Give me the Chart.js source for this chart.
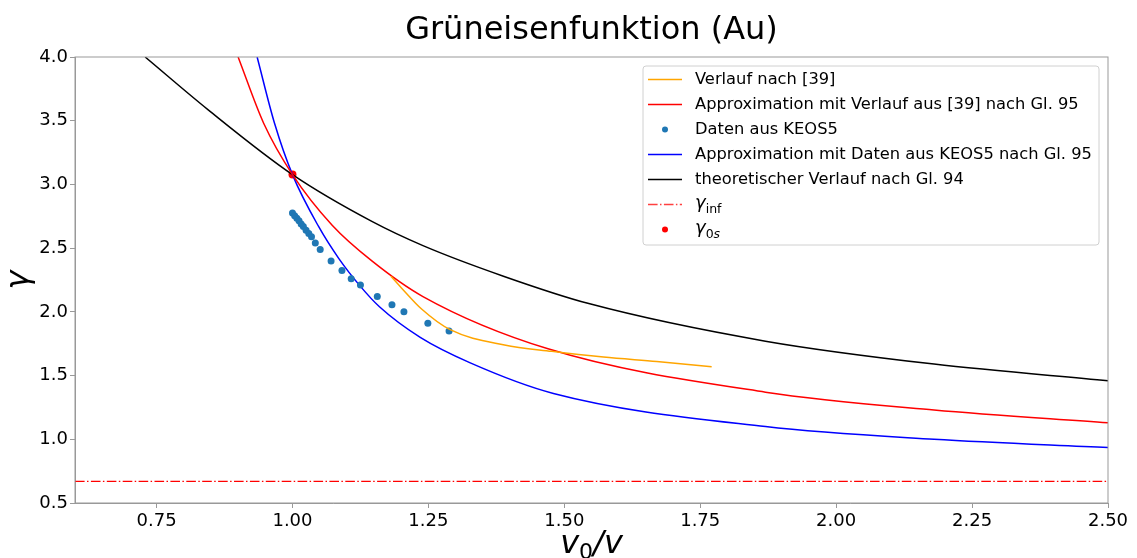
<!DOCTYPE html>
<html>
<head>
<meta charset="utf-8">
<script src="https://cdn.jsdelivr.net/npm/chart.js@4"></script>
<style>
  html, body { margin: 0; padding: 0; background: #fff; }
</style>
</head>
<body>
<canvas id="gruen" width="1137" height="558"></canvas>
<script>
// values
const xTicks = [0.75, 1.0, 1.25, 1.5, 1.75, 2.0, 2.25, 2.5];
const yTicks = [0.5, 1.0, 1.5, 2.0, 2.5, 3.0, 3.5, 4.0];

// Verlauf nach [39]
const verlaufX = [1.181, 1.20, 1.238, 1.29, 1.39, 1.477, 1.572, 1.67, 1.771];
const verlaufY = [2.28, 2.19, 2.02, 1.86, 1.74, 1.69, 1.645, 1.61, 1.57];

// Approximation mit Verlauf aus [39]
const approxRedX = [0.90, 0.947, 1.0, 1.073, 1.146, 1.24, 1.47, 1.87, 2.18, 2.5];
const approxRedY = [4.0, 3.48, 3.077, 2.68, 2.40, 2.12, 1.71, 1.37, 1.23, 1.13];

// Daten aus KEOS5
const keosX = [1.000, 1.004, 1.008, 1.012, 1.016, 1.020, 1.025, 1.030, 1.035,
  1.042, 1.051, 1.071, 1.091, 1.108, 1.125, 1.156, 1.183, 1.205, 1.249, 1.288];
const keosY = [2.775, 2.755, 2.735, 2.715, 2.69, 2.67, 2.64, 2.615, 2.59,
  2.54, 2.49, 2.40, 2.325, 2.26, 2.21, 2.12, 2.055, 2.00, 1.91, 1.85];

// Approximation mit Daten aus KEOS5
const approxBlueX = [0.935, 0.967, 1.0, 1.048, 1.085, 1.125, 1.16, 1.235, 1.327, 1.48, 1.87, 2.18, 2.5];
const approxBlueY = [4.0, 3.48, 3.077, 2.67, 2.42, 2.20, 2.04, 1.80, 1.60, 1.36, 1.10, 1.00, 0.935];

// theoretischer Verlauf
const theoX = [0.729, 0.845, 1.0, 1.146, 1.24, 1.388, 1.545, 1.87, 2.18, 2.5];
const theoY = [4.0, 3.585, 3.077, 2.71, 2.52, 2.28, 2.065, 1.77, 1.59, 1.46];

const gammaInf = 0.67;
const gamma0s = { x: 1.0, y: 3.077 };

const pts = (xs, ys) => xs.map((x, i) => ({ x: x, y: ys[i] }));
const FONT = "'DejaVu Sans', sans-serif";
const dashDot = [9.6, 2.4, 1.5, 2.4];

const lineSet = (label, data, color) => ({
  label: label,
  type: "line",
  data: data,
  borderColor: color,
  borderWidth: 1.5,
  pointRadius: 0,
  fill: false,
  cubicInterpolationMode: "monotone",
});

// legend entries, drawn inside the plot like matplotlib does
const legendItems = [
  { kind: "line", color: "orange", text: "Verlauf nach [39]" },
  { kind: "line", color: "red", text: "Approximation mit Verlauf aus [39] nach Gl. 95" },
  { kind: "dot", color: "#1f77b4", text: "Daten aus KEOS5" },
  { kind: "line", color: "blue", text: "Approximation mit Daten aus KEOS5 nach Gl. 95" },
  { kind: "line", color: "black", text: "theoretischer Verlauf nach Gl. 94" },
  { kind: "dash", color: "rgba(255,0,0,0.75)", sym: "γ", sub: "inf" },
  { kind: "dot", color: "red", sym: "γ", sub: "0", sub2: "s" },
];

const decorations = {
  id: "decorations",
  afterDraw(chart) {
    const ctx = chart.ctx;
    const a = chart.chartArea;
    ctx.save();

    // frame on all four sides
    ctx.strokeStyle = "#999";
    ctx.lineWidth = 1;
    ctx.strokeRect(a.left, a.top, a.right - a.left, a.bottom - a.top);

    // title
    ctx.fillStyle = "#000";
    ctx.textAlign = "center";
    ctx.textBaseline = "alphabetic";
    ctx.font = "32px " + FONT;
    ctx.fillText("Grüneisenfunktion (Au)", (a.left + a.right) / 2, 39);

    // x axis title v0/v
    const cx = (a.left + a.right) / 2;
    ctx.textAlign = "left";
    ctx.font = "italic 32px " + FONT;
    const wv = ctx.measureText("v").width;
    ctx.font = "22px " + FONT;
    const w0 = ctx.measureText("0").width;
    ctx.font = "italic 32px " + FONT;
    const wsl = ctx.measureText("/v").width;
    let x0 = cx - (wv + w0 + wsl) / 2;
    ctx.fillText("v", x0, 553);
    ctx.font = "22px " + FONT;
    ctx.fillText("0", x0 + wv, 559);
    ctx.font = "italic 32px " + FONT;
    ctx.fillText("/v", x0 + wv + w0, 553);

    // y axis title
    ctx.save();
    ctx.translate(28, (a.top + a.bottom) / 2);
    ctx.rotate(-Math.PI / 2);
    ctx.textAlign = "center";
    ctx.font = "italic 32px " + FONT;
    ctx.fillText("γ", 0, 0);
    ctx.restore();

    // legend box
    const bx = 643, by = 66, bw = 456, bh = 179;
    ctx.beginPath();
    ctx.roundRect(bx, by, bw, bh, 3);
    ctx.fillStyle = "rgba(255,255,255,0.8)";
    ctx.fill();
    ctx.strokeStyle = "#d0d0d0";
    ctx.stroke();

    legendItems.forEach((it, i) => {
      const y = 79.5 + i * 25;
      ctx.strokeStyle = it.color;
      ctx.fillStyle = it.color;
      ctx.lineWidth = 1.5;
      if (it.kind === "line" || it.kind === "dash") {
        ctx.setLineDash(it.kind === "dash" ? dashDot : []);
        ctx.beginPath();
        ctx.moveTo(648, y);
        ctx.lineTo(682, y);
        ctx.stroke();
        ctx.setLineDash([]);
      } else {
        ctx.beginPath();
        ctx.arc(665, y, 3, 0, Math.PI * 2);
        ctx.fill();
      }
      ctx.fillStyle = "#000";
      ctx.textAlign = "left";
      ctx.textBaseline = "middle";
      if (it.text) {
        ctx.font = "16.3px " + FONT;
        ctx.fillText(it.text, 695, y);
      } else {
        ctx.font = "italic 18px " + FONT;
        ctx.fillText(it.sym, 695, y - 1);
        let sx = 695 + ctx.measureText(it.sym).width;
        ctx.font = "12.5px " + FONT;
        ctx.fillText(it.sub, sx, y + 5);
        if (it.sub2) {
          sx += ctx.measureText(it.sub).width;
          ctx.font = "italic 12.5px " + FONT;
          ctx.fillText(it.sub2, sx, y + 5);
        }
      }
    });

    ctx.restore();
  },
};

new Chart(document.getElementById("gruen"), {
  type: "scatter",
  data: {
    datasets: [
      lineSet("Verlauf nach [39]", pts(verlaufX, verlaufY), "orange"),
      lineSet("Approximation mit Verlauf aus [39] nach Gl. 95", pts(approxRedX, approxRedY), "red"),
      {
        label: "Daten aus KEOS5",
        data: pts(keosX, keosY),
        backgroundColor: "#1f77b4",
        borderWidth: 0,
        pointRadius: 3.5,
      },
      lineSet("Approximation mit Daten aus KEOS5 nach Gl. 95", pts(approxBlueX, approxBlueY), "blue"),
      lineSet("theoretischer Verlauf nach Gl. 94", pts(theoX, theoY), "black"),
      Object.assign(lineSet("γinf", [{ x: 0.6, y: gammaInf }, { x: 2.5, y: gammaInf }], "red"), {
        borderDash: dashDot,
        borderWidth: 1.3,
      }),
      {
        label: "γ0s",
        data: [gamma0s],
        backgroundColor: "red",
        borderWidth: 0,
        pointRadius: 4,
      },
    ],
  },
  options: {
    responsive: false,
    animation: false,
    devicePixelRatio: 1,
    layout: { padding: { top: 57, right: 29, left: 0, bottom: 0 } },
    plugins: {
      legend: { display: false },
      title: { display: false },
      tooltip: { enabled: false },
    },
    scales: {
      x: {
        type: "linear",
        min: 0.6,
        max: 2.5,
        afterBuildTicks: (s) => {
          s.ticks = xTicks.map((v) => ({ value: v }));
        },
        afterFit: (s) => {
          s.height = 55;
        },
        ticks: {
          callback: (v) => v.toFixed(2),
          font: { family: FONT, size: 18 },
          color: "#000",
          maxRotation: 0,
          autoSkip: false,
          padding: 3,
        },
        grid: { drawOnChartArea: false, drawTicks: true, tickLength: 5, color: "#999" },
        border: { display: true, color: "#999" },
      },
      y: {
        type: "linear",
        min: 0.5,
        max: 4.0,
        afterBuildTicks: (s) => {
          s.ticks = yTicks.map((v) => ({ value: v }));
        },
        afterFit: (s) => {
          s.width = 75;
        },
        ticks: {
          callback: (v) => v.toFixed(1),
          font: { family: FONT, size: 18 },
          color: "#000",
          autoSkip: false,
          padding: 2,
        },
        grid: { drawOnChartArea: false, drawTicks: true, tickLength: 5, color: "#999" },
        border: { display: true, color: "#999" },
      },
    },
  },
  plugins: [decorations],
});
</script>
</body>
</html>
